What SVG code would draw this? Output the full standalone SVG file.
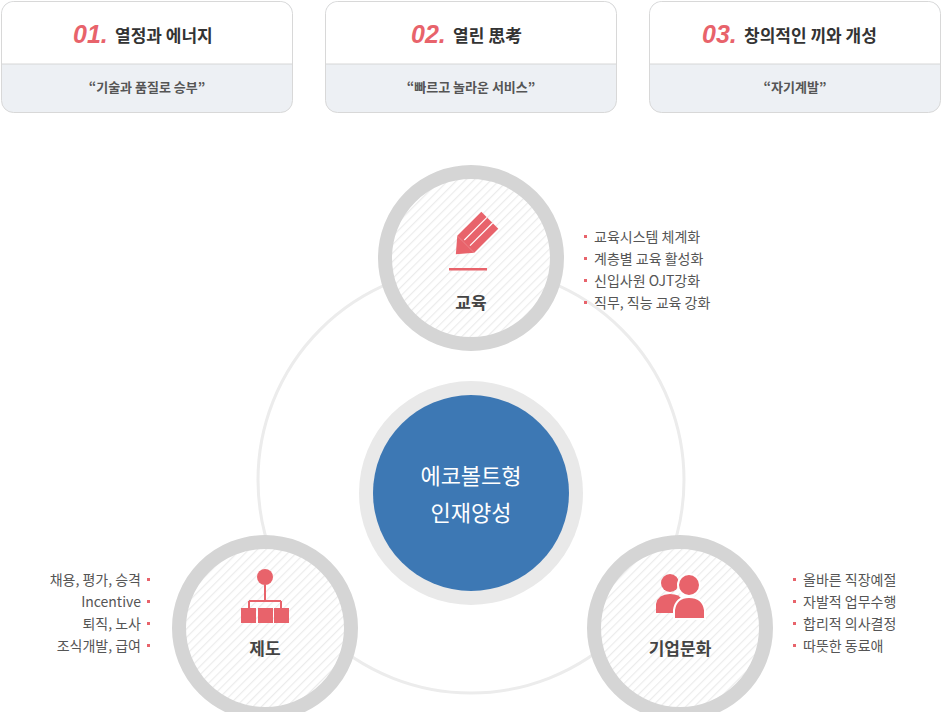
<svg xmlns="http://www.w3.org/2000/svg" width="942" height="712" viewBox="0 0 942 712">
<style>
text{font-family:"Noto Sans CJK KR","Noto Sans",sans-serif}
.num{font-family:"Liberation Sans",sans-serif;font-style:italic;font-weight:bold;fill:#e8636b;font-size:25px}
.ttl{font-weight:bold;fill:#333;font-size:17px}
.sub{font-weight:bold;fill:#555;font-size:13px}
.lbl{font-weight:bold;fill:#444;font-size:17px;text-anchor:middle}
.li{fill:#555;font-size:14px}
.dot{fill:#e8636b}
.ic{fill:#e8636b}
</style>
<defs>
<pattern id="st" width="6" height="6" patternUnits="userSpaceOnUse" patternTransform="rotate(45)">
<rect width="6" height="6" fill="#fff"/><rect width="1.2" height="6" fill="#ececec"/>
</pattern>
</defs>
<rect width="942" height="712" fill="#fff"/>
<g id="box1">
<rect x="1.5" y="1.5" width="291" height="111" rx="12" fill="#edf0f4" stroke="#d8d8d8"/>
<path d="M2,64 V13.5 A12,12 0 0 1 13.5,2 H281 A12,12 0 0 1 292,13.5 V64 Z" fill="#fff"/>
<line x1="2" y1="64" x2="292" y2="64" stroke="#d6d6d6"/>
<text x="73" y="43" class="num">01.</text><text x="115" y="42" class="ttl">열정과 에너지</text>
<text x="147" y="92" class="sub" text-anchor="middle">“기술과 품질로 승부”</text>
</g>
<g id="box2">
<rect x="325.5" y="1.5" width="291" height="111" rx="12" fill="#edf0f4" stroke="#d8d8d8"/>
<path d="M326,64 V13.5 A12,12 0 0 1 337.5,2 H605 A12,12 0 0 1 616,13.5 V64 Z" fill="#fff"/>
<line x1="326" y1="64" x2="616" y2="64" stroke="#d6d6d6"/>
<text x="411" y="43" class="num">02.</text><text x="453" y="42" class="ttl">열린 思考</text>
<text x="471" y="92" class="sub" text-anchor="middle">“빠르고 놀라운 서비스”</text>
</g>
<g id="box3">
<rect x="649.5" y="1.5" width="291" height="111" rx="12" fill="#edf0f4" stroke="#d8d8d8"/>
<path d="M650,64 V13.5 A12,12 0 0 1 661.5,2 H929 A12,12 0 0 1 940,13.5 V64 Z" fill="#fff"/>
<line x1="650" y1="64" x2="940" y2="64" stroke="#d6d6d6"/>
<text x="702" y="43" class="num">03.</text><text x="744" y="42" class="ttl">창의적인 끼와 개성</text>
<text x="795" y="92" class="sub" text-anchor="middle">“자기계발”</text>
</g>
<g id="connectors">
<circle cx="471" cy="480" r="213" fill="none" stroke="#ececec" stroke-width="3"/>
</g>
<g id="center">
<circle cx="471" cy="493" r="112" fill="#e9e9e9"/>
<circle cx="471" cy="493" r="98" fill="#3d78b4"/>
<text x="471" y="484" font-size="22" fill="#fff" text-anchor="middle">에코볼트형</text>
<text x="471" y="521" font-size="22" fill="#fff" text-anchor="middle">인재양성</text>
</g>
<g id="edu">
<circle cx="471" cy="258" r="86" fill="url(#st)" stroke="#d5d5d5" stroke-width="14"/>
<g transform="translate(470,240) rotate(-45)">
<rect x="-6" y="-12" width="34" height="24" class="ic"/>
<polygon points="-6,-12 -20,0 -6,12" class="ic"/>
<line x1="-4" y1="-4" x2="28" y2="-4" stroke="#fff" stroke-width="1.2"/>
<line x1="-4" y1="4" x2="28" y2="4" stroke="#fff" stroke-width="1.2"/>
</g>
<rect x="449" y="268" width="38" height="2.5" class="ic"/>
<text x="471" y="309" class="lbl">교육</text>
</g>
<g id="edu-list">
<rect x="584" y="235" width="3" height="3" class="dot"/><text x="594" y="242" class="li">교육시스템 체계화</text>
<rect x="584" y="257" width="3" height="3" class="dot"/><text x="594" y="264" class="li">계층별 교육 활성화</text>
<rect x="584" y="279" width="3" height="3" class="dot"/><text x="594" y="286" class="li">신입사원 OJT강화</text>
<rect x="584" y="301" width="3" height="3" class="dot"/><text x="594" y="308" class="li">직무, 직능 교육 강화</text>
</g>
<g id="system">
<circle cx="265" cy="628" r="86" fill="url(#st)" stroke="#d5d5d5" stroke-width="14"/>
<circle cx="265" cy="577" r="8" class="ic"/>
<g stroke="#e8636b" stroke-width="2" fill="none">
<line x1="265" y1="585" x2="265" y2="601"/><line x1="249" y1="601" x2="281" y2="601"/>
<line x1="249" y1="601" x2="249" y2="608"/><line x1="281" y1="601" x2="281" y2="608"/>
</g>
<rect x="241" y="608" width="15" height="15" class="ic"/><rect x="258" y="608" width="15" height="15" class="ic"/><rect x="274" y="608" width="15" height="15" class="ic"/>
<text x="265" y="655" class="lbl">제도</text>
</g>
<g id="system-list" text-anchor="end">
<text x="141" y="585" class="li">채용, 평가, 승격</text><rect x="147" y="578" width="3" height="3" class="dot"/>
<text x="141" y="607" class="li">Incentive</text><rect x="147" y="600" width="3" height="3" class="dot"/>
<text x="141" y="629" class="li">퇴직, 노사</text><rect x="147" y="622" width="3" height="3" class="dot"/>
<text x="141" y="651" class="li">조식개발, 급여</text><rect x="147" y="644" width="3" height="3" class="dot"/>
</g>
<g id="culture">
<circle cx="680" cy="628" r="86" fill="url(#st)" stroke="#d5d5d5" stroke-width="14"/>
<circle cx="670" cy="583" r="9" class="ic"/>
<path d="M656,613 V604 Q658,594 670,594 Q680,594 682,600 L676,613 Z" class="ic"/>
<circle cx="689" cy="585" r="11" stroke="#fff" stroke-width="2" class="ic"/>
<path d="M674,619 V610 Q676,597 689,597 Q703,597 705,610 V619 Z" class="ic" stroke="#fff" stroke-width="2"/>
<text x="680" y="655" class="lbl">기업문화</text>
</g>
<g id="culture-list">
<rect x="793" y="578" width="3" height="3" class="dot"/><text x="803" y="585" class="li">올바른 직장예절</text>
<rect x="793" y="600" width="3" height="3" class="dot"/><text x="803" y="607" class="li">자발적 업무수행</text>
<rect x="793" y="622" width="3" height="3" class="dot"/><text x="803" y="629" class="li">합리적 의사결정</text>
<rect x="793" y="644" width="3" height="3" class="dot"/><text x="803" y="651" class="li">따뜻한 동료애</text>
</g>
</svg>
